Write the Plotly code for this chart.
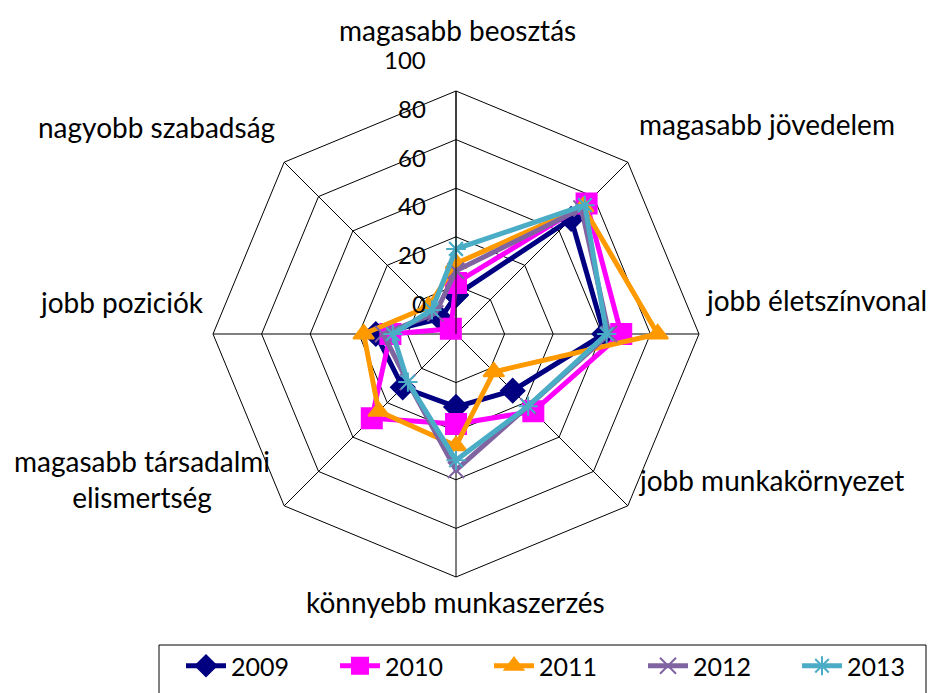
import plotly.graph_objects as go

categories = ["magasabb beosztás", "magasabb jövedelem", "jobb életszínvonal",
              "jobb munkakörnyezet", "könnyebb munkaszerzés",
              "magasabb társadalmi elismertség", "jobb poziciók", "nagyobb szabadság"]
cat_labels = ["magasabb beosztás", "magasabb jövedelem", "jobb életszínvonal",
              "jobb munkakörnyezet", "könnyebb munkaszerzés",
              "magasabb társadalmi<br>elismertség", "jobb poziciók", "nagyobb szabadság"]
years = ["2009", "2010", "2011", "2012", "2013"]
v2009 = [16, 67, 61, 33, 30, 31, 33, 9]
v2010 = [21, 76, 68, 45, 37, 49, 27, 3]
v2011 = [29, 74, 83, 22, 46, 45, 38, 16]
v2012 = [26, 73, 63, 42, 56, 28, 30, 12]
v2013 = [35, 75, 62, 42, 52, 28, 26, 14]
tick_vals = [0, 20, 40, 60, 80, 100]

series = [v2009, v2010, v2011, v2012, v2013]
colors = ["#000080", "#FF00FF", "#FF9900", "#8064A2", "#4BACC6"]
symbols = ["diamond", "square", "triangle-up", "x-thin-open", "asterisk-open"]
msizes = [18, 20, 18, 16, 16]

W, H = 936, 693
OFF = 8  # page body margin of the browser
FONT = "Lato"


def fx(px):
    return (px - OFF) / W


def fy(py):
    return 1 - (py - OFF) / H


fig = go.Figure()
for name, vals, c, s, ms in zip(years, series, colors, symbols, msizes):
    fig.add_trace(go.Scatterpolar(
        r=vals + vals[:1], theta=categories + categories[:1],
        mode="lines+markers", name=name,
        line=dict(color=c, width=5),
        marker=dict(symbol=s, size=ms, color=c, line=dict(color=c, width=2)),
    ))

cx, cy, R = 456, 334, 243
fig.update_layout(
    width=W, height=H,
    margin=dict(l=0, r=0, t=0, b=0, autoexpand=False),
    paper_bgcolor="white", plot_bgcolor="white",
    font=dict(family=FONT, color="black"),
    polar=dict(
        domain=dict(x=[fx(cx - R), fx(cx + R)], y=[fy(cy + R), fy(cy - R)]),
        gridshape="linear",
        bgcolor="white",
        radialaxis=dict(range=[0, 100], tickvals=tick_vals, showticklabels=False,
                        ticks="", angle=90, showline=True, linecolor="black", linewidth=1,
                        gridcolor="black", gridwidth=1),
        angularaxis=dict(direction="clockwise", rotation=90, showticklabels=False,
                         ticks="", showline=True, linecolor="black", linewidth=1,
                         gridcolor="black", gridwidth=1),
    ),
    showlegend=True,
    legend=dict(orientation="h", x=fx(181), y=fy(643), xanchor="left", yanchor="top",
                bgcolor="rgba(0,0,0,0)", borderwidth=0, font=dict(size=25, family=FONT),
                entrywidth=99, entrywidthmode="pixels", itemwidth=40),
)

# legend frame
fig.add_shape(type="rect", xref="paper", yref="paper",
              x0=fx(159), x1=fx(926), y0=fy(705), y1=fy(645),
              line=dict(color="black", width=1), fillcolor="rgba(0,0,0,0)", layer="below")

# category label positions (pixel centres)
label_pos = [(457, 30), (767, 124), (816, 300), (771, 480), (455, 602),
             (142, 479), (122, 302), (156, 127)]
for txt, (px, py) in zip(cat_labels, label_pos):
    fig.add_annotation(text=txt, x=fx(px), y=fy(py), xref="paper", yref="paper",
                       showarrow=False, xanchor="center", yanchor="middle",
                       font=dict(size=28, family=FONT))

for v in tick_vals:
    py = cy - v * R / 100 - 31
    fig.add_annotation(text=str(v), x=fx(428), y=fy(py), xref="paper", yref="paper",
                       showarrow=False, xanchor="right", yanchor="middle",
                       font=dict(size=24, family=FONT))

fig.write_html("out.html")
